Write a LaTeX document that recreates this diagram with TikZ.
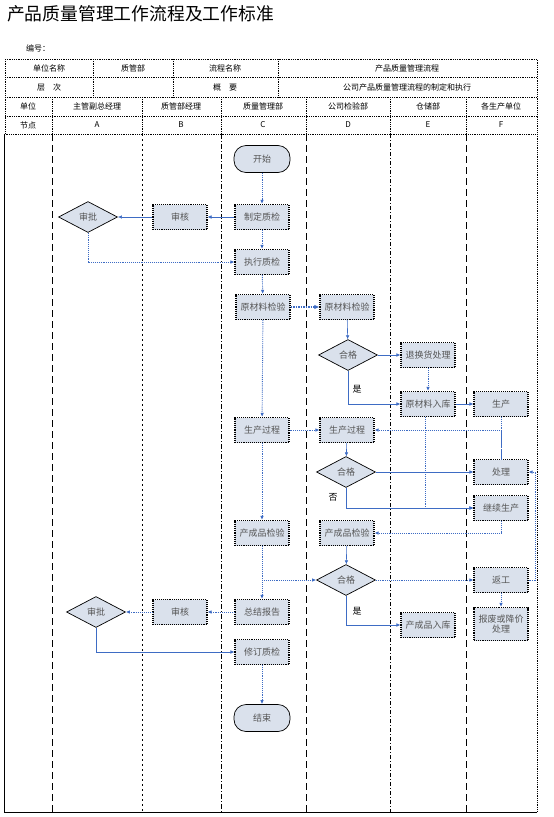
\documentclass[tikz,border=0pt]{standalone}
\usepackage{fontspec}
\setmainfont{Noto Sans CJK SC}
\usetikzlibrary{shapes.geometric,arrows.meta}
\definecolor{lnblue}{HTML}{3E6CC4}
\definecolor{boxfill}{HTML}{DAE1EC}
\definecolor{txtgray}{HTML}{555555}
\begin{document}
\begin{tikzpicture}[x=1pt,y=-1pt,
  hdr/.style={font=\fontsize{8}{9}\selectfont, text=black, inner sep=0pt},
  tline/.style={draw=black, densely dotted, line width=0.8pt},
  lane/.style={draw=black, dash pattern=on 7pt off 4pt, line width=0.6pt},
  box/.style={draw=black, densely dotted, line width=1.1pt, fill=boxfill, minimum width=54pt, minimum height=25pt, inner sep=1pt, font=\fontsize{9}{11}\selectfont, text=txtgray, align=center},
  term/.style={box, solid, line width=0.7pt, rounded corners=12pt, minimum width=56pt, minimum height=27pt},
  dia/.style={draw=black, line width=0.7pt, fill=boxfill, diamond, minimum width=59pt, minimum height=31pt, inner sep=0pt, font=\fontsize{9}{11}\selectfont, text=txtgray},
  conn/.style={draw=lnblue, densely dotted, line width=0.9pt, -{Latex[length=4pt,width=3.5pt]}},
  conns/.style={draw=lnblue, line width=0.6pt, -{Latex[length=4pt,width=3.5pt]}},
  lbl/.style={font=\fontsize{9}{10}\selectfont, text=black, inner sep=0pt}
]
\useasboundingbox (0,0) rectangle (554,817);
\fill[white] (0,0) rectangle (554,817);

% title
\node[anchor=west, inner sep=0pt, font=\fontsize{17.8}{20}\selectfont] (title) at (7,14) {产品质量管理工作流程及工作标准};
\node[anchor=west, hdr] (bh) at (26,48) {编号：};

% header table
\draw[tline] (5,59) rectangle (537,134);
\draw[tline] (5,77) -- (537,77);
\draw[tline] (5,97) -- (537,97);
\draw[tline] (5,116) -- (537,116);
\foreach \x in {93,173,278} \draw[tline] (\x,59) -- (\x,97);
\foreach \x in {52,142,221,306,390,466} \draw[tline] (\x,97) -- (\x,134);
\node[hdr] (h11) at (49,68) {单位名称};
\node[hdr] (h12) at (133,68) {质管部};
\node[hdr] (h13) at (225,68) {流程名称};
\node[hdr] (h14) at (407,68) {产品质量管理流程};
\node[hdr] (h21) at (49,87) {层\quad 次};
\node[hdr] (h23) at (225,87) {概\quad 要};
\node[hdr] (h24) at (407,87) {公司产品质量管理流程的制定和执行};
\node[hdr] (h31) at (28,106) {单位};
\node[hdr] (h32) at (97,106) {主管副总经理};
\node[hdr] (h33) at (181,106) {质管部经理};
\node[hdr] (h34) at (263,106) {质量管理部};
\node[hdr] (h35) at (348,106) {公司检验部};
\node[hdr] (h36) at (428,106) {仓储部};
\node[hdr] (h37) at (501,106) {各生产单位};
\node[hdr] (h41) at (28,125) {节点};
\node[hdr] (h42) at (97,125) {A};
\node[hdr] (h43) at (181,125) {B};
\node[hdr] (h44) at (263,125) {C};
\node[hdr] (h45) at (348,125) {D};
\node[hdr] (h46) at (428,125) {E};
\node[hdr] (h47) at (501,125) {F};

% body frame and lanes
\draw[black, line width=0.8pt] (4,134) -- (4,812) -- (537,812);
\draw[tline] (537,134) -- (537,812);
\draw[lane] (52,134) -- (52,812);
\draw[draw=black, dash pattern=on 2pt off 3pt, line width=1pt] (142,134) -- (142,812);
\draw[draw=black, dash pattern=on 5pt off 2pt on 1pt off 2pt, line width=0.6pt] (221,134) -- (221,812);
\draw[lane] (306,134) -- (306,812);
\draw[draw=black, dash pattern=on 4pt off 2pt on 1pt off 2pt, line width=0.6pt] (390,134) -- (390,812);
\draw[lane] (466,134) -- (466,812);

% nodes
\node[term] (start) at (262,159) {开始};
\node[box] (zd) at (262,217) {制定质检};
\node[box] (sh1) at (180,217) {审核};
\node[dia] (sp1) at (88,217) {审批};
\node[box] (zx) at (262,262) {执行质检};
\node[box] (yc) at (263,307) {原材料检验};
\node[box] (yd) at (347,307) {原材料检验};
\node[dia] (hg1) at (348,355) {合格};
\node[box] (th) at (428,355) {退换货处理};
\node[box] (yr) at (428,404) {原材料入库};
\node[box] (sc) at (501,404) {生产};
\node[box] (gc) at (262,430) {生产过程};
\node[box] (gd) at (347,430) {生产过程};
\node[dia] (hg2) at (346,472) {合格};
\node[box] (cl) at (501,472) {处理};
\node[box] (jx) at (501,508) {继续生产};
\node[box] (cc) at (262,533) {产成品检验};
\node[box] (cd) at (347,533) {产成品检验};
\node[dia] (hg3) at (346,580) {合格};
\node[box] (fg) at (501,580) {返工};
\node[box, minimum height=33pt, font=\fontsize{9}{10.5}\selectfont] (bf) at (501,624) {报废或降价\\处理};
\node[box] (cr) at (428,625) {产成品入库};
\node[box] (zj) at (262,612) {总结报告};
\node[box] (sh2) at (180,612) {审核};
\node[dia] (sp2) at (96,612) {审批};
\node[box] (xd) at (262,652) {修订质检};
\node[term] (end) at (262,718) {结束};

\coordinate (k1) at (535,580);
\coordinate (k2) at (535,472);
\coordinate (v1) at (425,404);

% connectors
\draw[conn] (start) -- (zd);
\draw[conns] (zd) -- (sh1);
\draw[conns] (sh1) -- (sp1);
\draw[conn] (sp1.south) |- (zx.west);
\draw[conn] (zd) -- (zx);
\draw[conn] (zx) -- (yc);
\draw[conn, line width=1.5pt, -{Latex[length=5pt,width=4.5pt]}] (yc) -- (yd);
\draw[conns] (yd) -- (hg1);
\draw[conns] (hg1) -- (th);
\draw[conn] (th) -- (yr);
\draw[conns] (hg1.south) |- (yr.west);
\draw[conns] (yr) -- (sc);
\draw[conn] (yc) -- (gc);
\draw[conn] (gc) -- (gd);
\draw[draw=lnblue, densely dotted, line width=0.9pt] (sc) -- (cl);
\draw[conn] (cl.north) |- (gd.east);
\draw[conns] (gd) -- (hg2);
\draw[conns] (hg2) -- (cl);
\draw[conns] (hg2.south) |- (jx.west);
\draw[conn] (v1 |- yr.south) |- (jx.west);
\draw[conn] (jx.south) |- (cd.east);
\draw[conn] (gc) -- (cc);
\draw[conns] (cd) -- (hg3);
\draw[conn] (cc.south) |- (hg3.west);
\draw[conn] (cc) -- (zj);
\draw[conn] (hg3) -- (fg);
\draw[conn] (fg.east) -- (k1) -- (k2) -- (cl.east);
\draw[conn] (fg) -- (bf);
\draw[conns] (hg3.south) |- (cr.west);
\draw[conn] (zj) -- (sh2);
\draw[conn] (sh2) -- (sp2);
\draw[conns] (sp2.south) |- (xd.west);
\draw[conn] (xd) -- (end);

% labels
\node[lbl] (l1) at (357,389) {是};
\node[lbl] (l2) at (333,497) {否};
\node[lbl] (l3) at (357,611) {是};
\end{tikzpicture}
\end{document}
